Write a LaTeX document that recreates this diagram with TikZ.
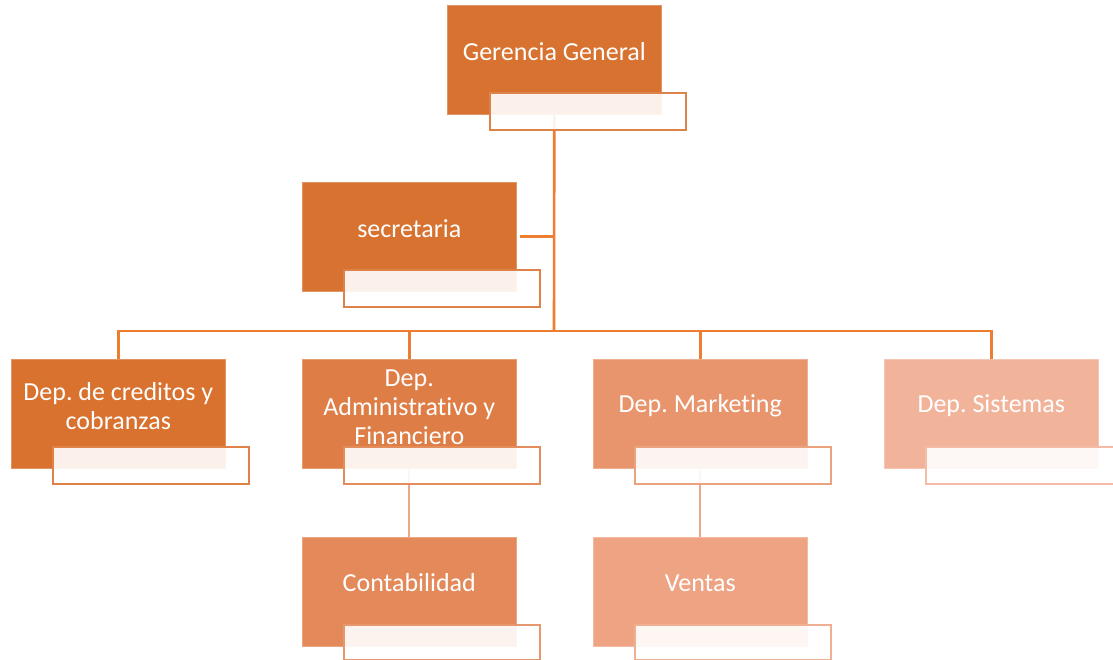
\documentclass[tikz,border=0pt]{standalone}
\usepackage{fontspec}
\setmainfont[Ligatures=NoCommon]{Carlito}
\usetikzlibrary{backgrounds}
\definecolor{cGG}{HTML}{D87230}
\definecolor{cD1}{HTML}{D9712F}
\definecolor{cD2}{HTML}{DE7D45}
\definecolor{cD3}{HTML}{E8956E}
\definecolor{cD4}{HTML}{F2B39B}
\definecolor{cCo}{HTML}{E3895A}
\definecolor{cVe}{HTML}{EEA483}
\definecolor{cBus}{HTML}{ED7D31}
\definecolor{cSub}{HTML}{EFA586}
\frenchspacing
\begin{document}
\begin{tikzpicture}[x=1pt,y=-1pt,
  box/.style={rectangle, anchor=north west, minimum width=214pt, minimum height=109pt,
              inner sep=0pt, fill=#1, draw=white!25!#1, line width=0.6pt},
  tab/.style={rectangle, anchor=north west, minimum width=196pt, minimum height=37pt,
              inner sep=0pt, fill=white, fill opacity=0.9, draw=white!12!#1, line width=2.4pt},
  txt/.style={text=white, font=\fontsize{26}{29}\selectfont, align=center, inner sep=0pt},
  bus/.style={draw=cBus, line width=2.6pt},
  sub/.style={draw=cSub, line width=2.3pt}]
\useasboundingbox (0,0) rectangle (1113,660);

% boxes
\node[box=cGG] (gg) at (447,5) {};
\node[box=cGG] (sec) at (302,182) {};
\node[box=cD1] (d1) at (11,359) {};
\node[box=cD2] (d2) at (302,359) {};
\node[box=cD3] (d3) at (593,359) {};
\node[box=cD4] (d4) at (884,359) {};
\node[box=cCo] (co) at (302,537) {};
\node[box=cVe] (ve) at (593,537) {};

% labels
\node[txt] (ggl) at ([yshift=-47pt]gg.north) {Gerencia General};
\node[txt] (secl) at ([yshift=-47pt]sec.north) {secretaria};
\node[txt] (d1l) at ([yshift=-47pt]d1.north) {Dep. de creditos y\\cobranzas};
\node[txt] (d2l) at ([yshift=-48pt]d2.north) {Dep.\\Administrativo y\\Financiero};
\node[txt] (d3l) at ([yshift=-47pt]d3.north) {Dep. Marketing};
\node[txt] (d4l) at ([yshift=-47pt]d4.north) {Dep. Sistemas};
\node[txt] (col) at ([yshift=-46pt]co.north) {Contabilidad};
\node[txt] (vel) at ([yshift=-46pt]ve.north) {Ventas};

% tabs under each box
\node[tab=cGG] (ggt) at ([xshift=42pt,yshift=23pt]gg.south west) {};
\node[tab=cGG] (sect) at ([xshift=41pt,yshift=23pt]sec.south west) {};
\node[tab=cD1] (d1t) at ([xshift=41pt,yshift=23pt]d1.south west) {};
\node[tab=cD2] (d2t) at ([xshift=41pt,yshift=23pt]d2.south west) {};
\node[tab=cD3] (d3t) at ([xshift=41pt,yshift=23pt]d3.south west) {};
\node[tab=cD4] (d4t) at ([xshift=41pt,yshift=23pt]d4.south west) {};
\node[tab=cCo, minimum height=35pt] (cot) at ([xshift=41pt,yshift=23pt]co.south west) {};
\node[tab=cVe, minimum height=35pt] (vet) at ([xshift=41pt,yshift=23pt]ve.south west) {};

\coordinate (hub) at (554,331);

% connectors
\begin{pgfonlayer}{background}
\draw[bus] (gg.south) -- (hub);
\draw[bus] ([xshift=3pt]sec.east) -- (sec.east -| hub);
\draw[bus] ([yshift=-2pt]d1.north) |- (hub) -| ([yshift=-2pt]d4.north);
\draw[bus] ([yshift=-2pt]d2.north) -- (d2.north |- hub);
\draw[bus] ([yshift=-2pt]d3.north) -- (d3.north |- hub);
\draw[sub] (d2.south) -- ([yshift=-2pt]co.north);
\draw[sub] (d3.south) -- ([yshift=-2pt]ve.north);
\end{pgfonlayer}
\end{tikzpicture}
\end{document}
